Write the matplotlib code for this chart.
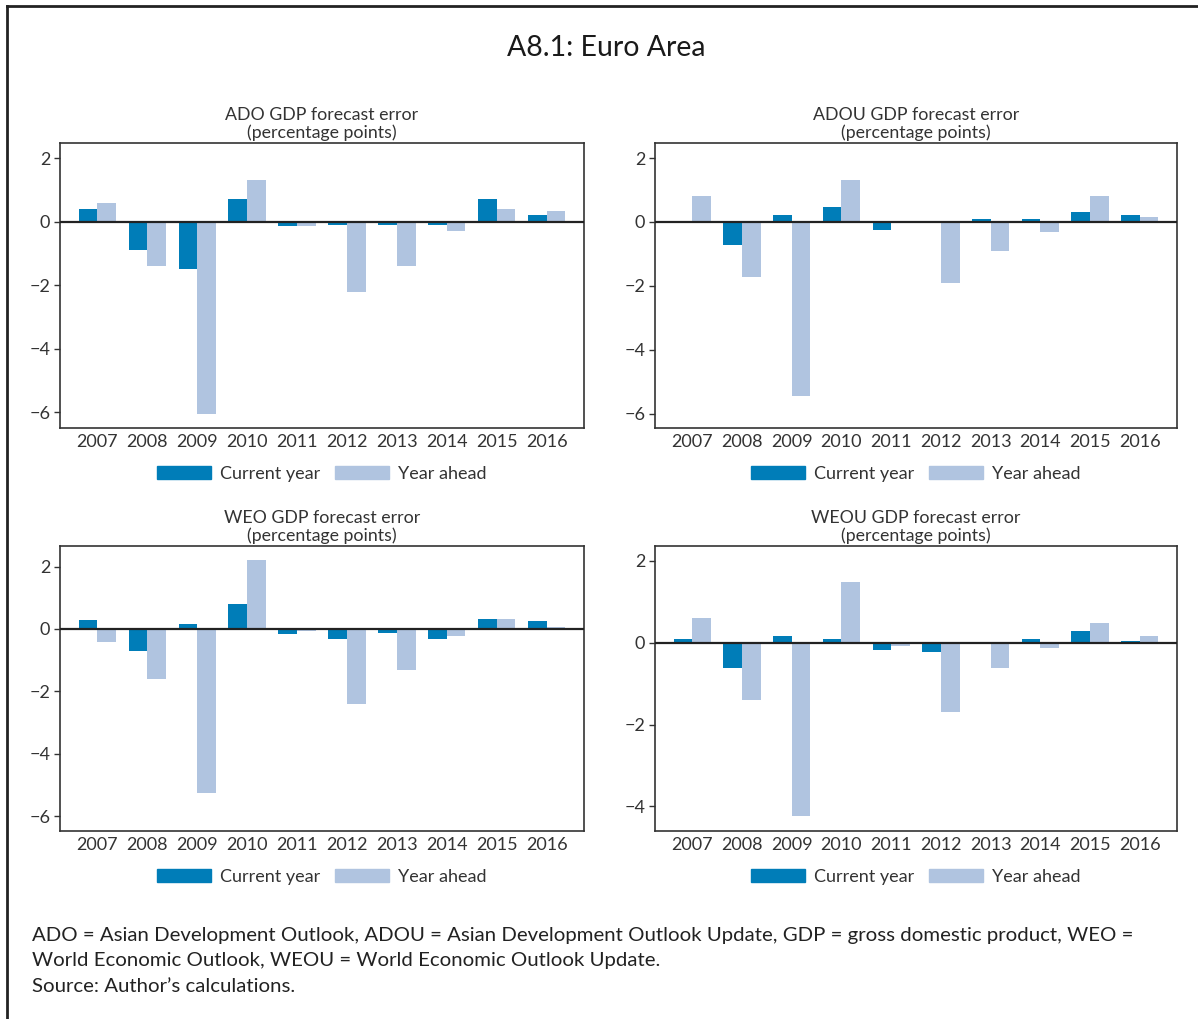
import matplotlib
matplotlib.use('Agg')
import matplotlib.pyplot as plt
from matplotlib.patches import Patch
import numpy as np

plt.rcParams['font.family'] = ['Lato', 'DejaVu Sans']

anios = ['2007', '2008', '2009', '2010', '2011', '2012', '2013', '2014', '2015', '2016']

# errores de pronostico (puntos porcentuales)
ado_actual = [0.4, -0.9, -1.5, 0.7, -0.15, -0.1, -0.1, -0.1, 0.7, 0.2]
ado_siguiente = [0.6, -1.4, -6.07, 1.3, -0.15, -2.2, -1.4, -0.3, 0.4, 0.35]

adou_actual = [0.0, -0.73, 0.23, 0.48, -0.26, 0.0, 0.1, 0.1, 0.3, 0.23]
adou_siguiente = [0.8, -1.73, -5.45, 1.3, 0.04, -1.92, -0.92, -0.33, 0.8, 0.14]

weo_actual = [0.3, -0.72, 0.15, 0.79, -0.17, -0.33, -0.14, -0.33, 0.31, 0.25]
weo_siguiente = [-0.43, -1.61, -5.27, 2.2, -0.07, -2.42, -1.33, -0.24, 0.31, 0.05]

weou_actual = [0.1, -0.61, 0.15, 0.1, -0.17, -0.22, 0.0, 0.1, 0.29, 0.05]
weou_siguiente = [0.59, -1.41, -4.24, 1.49, -0.07, -1.7, -0.61, -0.12, 0.49, 0.15]

titulos = ['ADO GDP forecast error\n(percentage points)',
           'ADOU GDP forecast error\n(percentage points)',
           'WEO GDP forecast error\n(percentage points)',
           'WEOU GDP forecast error\n(percentage points)']

AZUL = '#007db8'
CELESTE = '#b0c4e0'
GRIS = '#333333'

W, H = 1198, 1019
fig = plt.figure(figsize=(W / 100, H / 100), dpi=100)


def caja(x0, y0, x1, y1):
    # pixeles -> fraccion de figura
    return [x0 / W, 1 - y1 / H, (x1 - x0) / W, (y1 - y0) / H]


def grafica_panel(rect, actual, siguiente, titulo, ylim, yticks):
    ax = fig.add_axes(caja(*rect))
    x = np.arange(len(anios))
    ancho = 0.375
    ax.bar(x - ancho / 2, actual, ancho, color=AZUL, zorder=2, linewidth=0)
    ax.bar(x + ancho / 2, siguiente, ancho, color=CELESTE, zorder=2, linewidth=0)
    ax.axhline(0, color='#222222', linewidth=1.6, zorder=3)
    ax.set_xlim(-0.75, 9.75)
    ax.set_ylim(*ylim)
    ax.set_yticks(yticks)
    ax.set_yticklabels(['\u2212' + str(-t) if t < 0 else str(t) for t in yticks])
    ax.set_xticks(x)
    ax.set_xticklabels(anios)
    ax.tick_params(axis='x', length=0, pad=4, labelsize=13, labelcolor=GRIS)
    ax.tick_params(axis='y', length=4, width=1, color=GRIS, pad=3, labelsize=13, labelcolor=GRIS)
    for s in ax.spines.values():
        s.set_color(GRIS)
        s.set_linewidth(1.2)
    ax.set_title(titulo, fontsize=12.8, color=GRIS, linespacing=1.12, pad=3.5)
    ax.legend(handles=[Patch(color=AZUL, label='Current year'),
                       Patch(color=CELESTE, label='Year ahead')],
              loc='upper center', bbox_to_anchor=(0.5, -0.075), ncol=2, frameon=False,
              fontsize=13, handlelength=3.0, handleheight=0.8, handletextpad=0.5,
              columnspacing=0.8, labelcolor=GRIS)
    return ax


grafica_panel((60, 143, 584, 428), ado_actual, ado_siguiente, titulos[0], (-6.5, 2.48), [-6, -4, -2, 0, 2])
grafica_panel((655, 143, 1177, 428), adou_actual, adou_siguiente, titulos[1], (-6.45, 2.47), [-6, -4, -2, 0, 2])
grafica_panel((60, 546, 584, 831), weo_actual, weo_siguiente, titulos[2], (-6.48, 2.66), [-6, -4, -2, 0, 2])
grafica_panel((655, 546, 1177, 831), weou_actual, weou_siguiente, titulos[3], (-4.6, 2.36), [-4, -2, 0, 2])

fig.text(606 / W, 1 - 48 / H, 'A8.1: Euro Area', ha='center', va='center', fontsize=20.5, color='#1a1a1a')

nota = ('ADO = Asian Development Outlook, ADOU = Asian Development Outlook Update, GDP = gross domestic product, WEO =\n'
        'World Economic Outlook, WEOU = World Economic Outlook Update.\n'
        'Source: Author\u2019s calculations.')
fig.text(32 / W, 1 - 927 / H, nota, ha='left', va='top', fontsize=14.7, color='#222222', linespacing=1.6)

# marco exterior (solo izquierda y arriba)
fig.add_artist(plt.Line2D([7 / W, 7 / W], [0, 1 - 6 / H], color='#222222', linewidth=2))
fig.add_artist(plt.Line2D([7 / W, 1], [1 - 6 / H, 1 - 6 / H], color='#222222', linewidth=2))

fig.savefig('out.png', dpi=100)
